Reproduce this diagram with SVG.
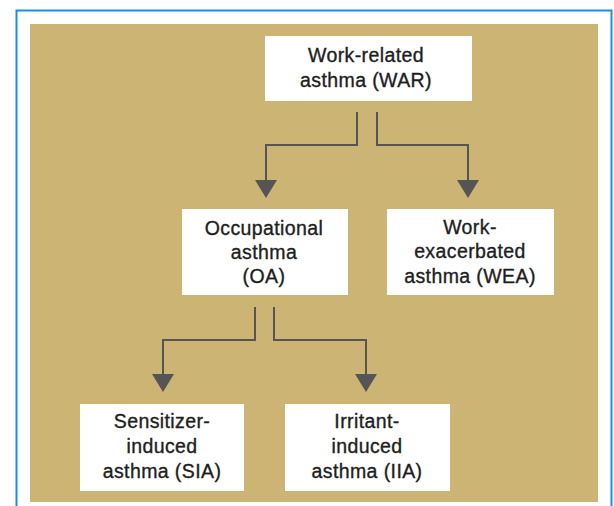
<svg xmlns="http://www.w3.org/2000/svg" width="614" height="506" viewBox="0 0 614 506">
  <defs>
    <style>
      .box { fill: #ffffff; }
      .lbl { font-family: "Liberation Sans", Arial, Helvetica, sans-serif; font-size: 19.5px; fill: #1e1e1e; stroke: #1e1e1e; stroke-width: 0.35px; text-anchor: middle; letter-spacing: 0.4px; }
      .conn { fill: none; stroke: #555555; stroke-width: 2; marker-end: url(#arrow); }
    </style>
    <marker id="arrow" viewBox="0 0 18 22" refX="0" refY="11" markerWidth="18" markerHeight="22" markerUnits="userSpaceOnUse" orient="auto">
      <path d="M0,0 L18,11 L0,22 z" fill="#555555"/>
    </marker>
  </defs>
  <rect x="0" y="0" width="614" height="506" fill="#ffffff"/>
  <rect x="16.5" y="10.5" width="595" height="510" fill="none" stroke="#1c8ee0" stroke-width="2"/>
  <rect x="30" y="24" width="568" height="478" fill="#ccb475"/>

  <g id="connectors">
    <path class="conn" d="M357,112 V145 H266 V180"/>
    <path class="conn" d="M377,112 V145 H468 V180"/>
    <path class="conn" d="M255,307 V340 H163 V374"/>
    <path class="conn" d="M274,307 V340 H366 V374"/>
  </g>

  <g id="war">
    <rect class="box" x="265" y="36" width="207" height="65"/>
    <text class="lbl" x="366" y="62">Work-related</text>
    <text class="lbl" x="366" y="87">asthma (WAR)</text>
  </g>

  <g id="oa">
    <rect class="box" x="182" y="209" width="166" height="86"/>
    <text class="lbl" x="264" y="235">Occupational</text>
    <text class="lbl" x="264" y="259">asthma</text>
    <text class="lbl" x="264" y="283">(OA)</text>
  </g>

  <g id="wea">
    <rect class="box" x="387" y="209" width="167" height="86"/>
    <text class="lbl" x="470" y="234">Work-</text>
    <text class="lbl" x="470" y="258">exacerbated</text>
    <text class="lbl" x="470" y="283">asthma (WEA)</text>
  </g>

  <g id="sia">
    <rect class="box" x="80" y="404" width="164" height="87"/>
    <text class="lbl" x="162" y="428">Sensitizer-</text>
    <text class="lbl" x="162" y="453">induced</text>
    <text class="lbl" x="162" y="478">asthma (SIA)</text>
  </g>

  <g id="iia">
    <rect class="box" x="285" y="404" width="165" height="87"/>
    <text class="lbl" x="367" y="428">Irritant-</text>
    <text class="lbl" x="367" y="453">induced</text>
    <text class="lbl" x="367" y="478">asthma (IIA)</text>
  </g>
</svg>
